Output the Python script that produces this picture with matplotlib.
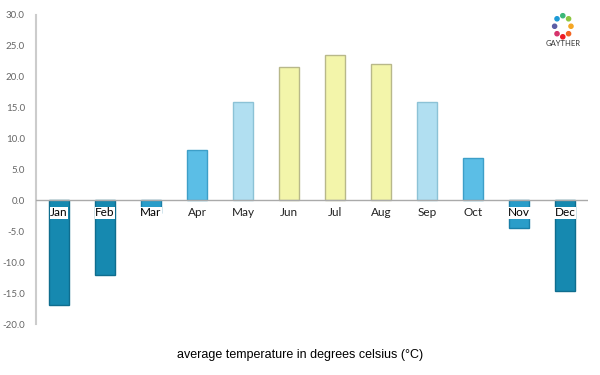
import matplotlib
matplotlib.use("Agg")
import matplotlib.pyplot as plt
import numpy as np

# data
months = ["Jan", "Feb", "Mar", "Apr", "May", "Jun", "Jul", "Aug", "Sep", "Oct", "Nov", "Dec"]
temps = [-17.0, -12.0, -2.1, 8.1, 16.0, 21.6, 23.6, 22.1, 16.0, 6.8, -4.5, -14.6]
colors = ["#1689b0", "#1689b0", "#2a9dc9", "#5bbee6", "#b1dff1", "#f3f5aa", "#f3f5aa",
          "#f3f5aa", "#b1dff1", "#5bbee6", "#2a9dc9", "#1689b0"]
edges = ["#0f6d8e", "#0f6d8e", "#1a7fa8", "#3d9fc8", "#8cc2d6", "#b8b88a", "#b8b88a",
         "#b8b88a", "#8cc2d6", "#3d9fc8", "#1a7fa8", "#0f6d8e"]
yticks = np.arange(-20, 31, 5)

fig = plt.figure(figsize=(6, 3.75), dpi=100)
ax = fig.add_axes([0.06, 0.136, 0.92, 0.824])

x = np.arange(len(months))
ax.bar(x, temps, width=0.42, color=colors, edgecolor=edges, linewidth=1, zorder=2)
ax.axhline(0, color="#aaaaaa", linewidth=1, zorder=3)

# month labels just under zero line
for i, (m, t) in enumerate(zip(months, temps)):
    if t < 0:
        ax.text(i, -2.0, m, ha="center", va="center", fontsize=8.5, family="Lato",
                color="black", zorder=4,
                bbox=dict(boxstyle="square,pad=0.05", fc="white", ec="none"))
    else:
        ax.text(i, -2.0, m, ha="center", va="center", fontsize=8.5, family="Lato",
                color="#222222", zorder=4)

ax.set_xlim(-0.5, 11.5)
ax.set_ylim(-20, 30)
ax.set_xticks([])
ax.set_yticks(yticks)
ax.set_yticklabels(["%.1f" % v for v in yticks], fontsize=7, color="#666666", family="Lato")
ax.tick_params(axis="y", length=0, pad=8)
for s in ["top", "right", "bottom"]:
    ax.spines[s].set_visible(False)
ax.spines["left"].set_color("#cccccc")
ax.spines["left"].set_linewidth(1.5)

fig.text(0.5, 0.045, "average temperature in degrees celsius (°C)", ha="center",
         fontsize=9, family="Liberation Sans", color="black")

# logo
lax = fig.add_axes([0.908, 0.885, 0.06, 0.09])
ang = np.linspace(0, 2 * np.pi, 8, endpoint=False)
lcols = ["#f5a623", "#8cc63f", "#3cb878", "#1c9ad6", "#5b5ea6", "#d6336c", "#ed1c24", "#f26522"]
lax.scatter(np.cos(ang), np.sin(ang), s=9, c=lcols)
lax.set_xlim(-2.2, 2.2)
lax.set_ylim(-1.6, 1.6)
lax.axis("off")
fig.text(0.938, 0.878, "GAYTHER", ha="center", fontsize=5.5, color="#333333", family="Lato")

fig.savefig("out.png", dpi=100)
